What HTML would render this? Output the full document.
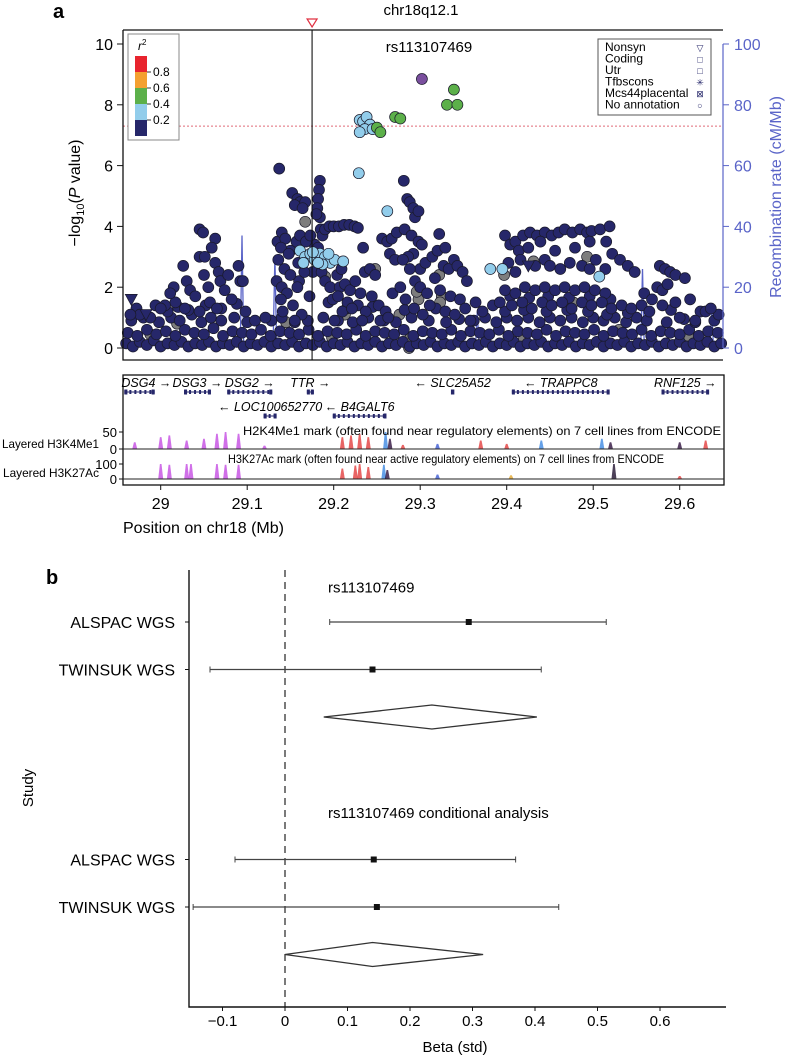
<!DOCTYPE html>
<html><head><meta charset="utf-8">
<style>
html,body{margin:0;padding:0;background:#fff;}
svg{display:block;font-family:"Liberation Sans",Arial,sans-serif;}
</style></head>
<body>
<svg id="fig" width="788" height="1059" viewBox="0 0 788 1059" xmlns="http://www.w3.org/2000/svg">
  <g id="panelA"></g>
  <g id="genes"></g>
  <g id="panelB"></g>
</svg>
<script>
// ---------- Panel a data ----------
const navySnps = [
[28.960,0.15],[28.968,0.05],[28.976,0.2],[28.984,0.1],[28.992,0.25],[29.000,0.05],[29.008,0.15],[29.016,0.1],[29.024,0.2],[29.032,0.05],[29.040,0.15],[29.048,0.1],[29.056,0.2],[29.064,0.05],[29.072,0.15],[29.080,0.1],[29.088,0.2],[29.096,0.05],[29.104,0.15],[29.112,0.1],[29.120,0.2],[29.128,0.05],[29.136,0.15],[29.144,0.1],[29.152,0.2],[29.160,0.05],[29.168,0.15],[29.176,0.1],[29.184,0.2],[29.192,0.05],[29.200,0.15],[29.208,0.1],[29.216,0.2],[29.224,0.05],[29.232,0.15],[29.240,0.1],[29.248,0.2],[29.256,0.05],[29.264,0.15],[29.272,0.1],[29.280,0.2],[29.288,0.05],[29.296,0.15],[29.304,0.1],[29.312,0.2],[29.320,0.05],[29.328,0.15],[29.336,0.1],[29.344,0.2],[29.352,0.05],[29.360,0.15],[29.368,0.1],[29.376,0.2],[29.384,0.05],[29.392,0.15],[29.400,0.1],[29.408,0.2],[29.416,0.05],[29.424,0.15],[29.432,0.1],[29.440,0.2],[29.448,0.05],[29.456,0.15],[29.464,0.1],[29.472,0.2],[29.480,0.05],[29.488,0.15],[29.496,0.1],[29.504,0.2],[29.512,0.05],[29.520,0.15],[29.528,0.1],[29.536,0.2],[29.544,0.05],[29.552,0.15],[29.560,0.1],[29.568,0.2],[29.576,0.05],[29.584,0.15],[29.592,0.1],[29.600,0.2],[29.608,0.05],[29.616,0.15],[29.624,0.1],[29.632,0.2],[29.640,0.05],[29.648,0.15],
[28.962,0.5],[28.973,0.4],[28.984,0.6],[28.995,0.45],[29.006,0.55],[29.017,0.4],[29.028,0.6],[29.039,0.5],[29.050,0.45],[29.061,0.65],[29.072,0.4],[29.083,0.55],[29.094,0.5],[29.105,0.45],[29.116,0.6],[29.127,0.4],[29.138,0.55],[29.149,0.5],[29.160,0.45],[29.171,0.6],[29.182,0.4],[29.193,0.55],[29.204,0.5],[29.215,0.45],[29.226,0.6],[29.237,0.4],[29.248,0.55],[29.259,0.5],[29.270,0.45],[29.281,0.6],[29.292,0.4],[29.303,0.55],[29.314,0.5],[29.325,0.45],[29.336,0.6],[29.347,0.4],[29.358,0.55],[29.369,0.5],[29.380,0.45],[29.391,0.6],[29.402,0.4],[29.413,0.55],[29.424,0.5],[29.435,0.45],[29.446,0.6],[29.457,0.4],[29.468,0.55],[29.479,0.5],[29.490,0.45],[29.501,0.6],[29.512,0.4],[29.523,0.55],[29.534,0.5],[29.545,0.45],[29.556,0.6],[29.567,0.4],[29.578,0.55],[29.589,0.5],[29.600,0.45],[29.611,0.6],[29.622,0.4],[29.633,0.55],[29.644,0.5],
[28.966,0.9],[28.980,1.0],[28.998,0.85],[29.012,1.0],[29.022,0.9],[29.036,1.1],[29.047,0.85],[29.058,1.0],[29.070,0.9],[29.085,1.0],[29.100,0.85],[29.128,0.9],[29.140,1.0],[29.155,0.85],[29.170,0.9],[29.188,1.0],[29.205,0.9],[29.222,0.85],[29.240,1.0],[29.258,0.9],[29.272,0.85],[29.290,1.0],[29.310,0.9],[29.330,0.85],[29.345,0.95],[29.362,0.9],[29.375,1.0],[29.388,0.85],[29.400,1.0],[29.412,0.9],[29.425,1.0],[29.438,0.85],[29.450,1.0],[29.462,0.9],[29.475,1.0],[29.488,0.85],[29.500,1.0],[29.512,0.9],[29.525,1.0],[29.538,0.85],[29.550,1.0],[29.562,0.9],[29.585,0.85],[29.605,0.95],[29.618,0.85],[29.640,0.9],
[28.972,1.3],[28.994,1.4],[29.008,1.2],[29.020,1.35],[29.032,1.25],[29.052,1.4],[29.070,1.3],[29.088,1.45],[29.215,1.3],[29.245,1.35],[29.282,1.25],[29.318,1.3],[29.372,1.2],[29.384,1.4],[29.398,1.2],[29.420,1.25],[29.446,1.2],[29.470,1.25],[29.494,1.2],[29.516,1.1],[29.540,1.15],[29.556,1.4],[29.590,1.25],[29.645,1.1],[29.404,1.7],[29.426,1.65],[29.448,1.7],[29.472,1.65],[29.496,1.7],[29.520,1.6],[29.015,2.0],[29.030,2.2],[29.050,2.4],[29.160,2.2],[29.176,2.5],[29.178,3.4],[29.150,3.2],[29.135,3.5],[29.292,3.1],[29.300,2.6],
[29.045,3.9],[29.049,3.8],[29.063,3.6],[29.059,3.3],[29.045,3.0],[29.051,3.0],[29.063,2.8],[29.067,2.5],[29.026,2.7],[29.069,2.2],[29.078,2.4],[29.090,2.7],[29.092,2.2],[29.095,2.2],[29.034,1.9],[29.040,1.7],[29.017,1.5],[29.005,1.4],[29.011,1.8],[29.028,1.3],[29.055,2.0],[29.074,1.9],[29.082,1.6],[29.057,1.5],[29.045,1.2],[28.988,1.0],[28.976,1.1],[28.965,1.1],[29.098,1.2],[29.109,0.9],[29.121,1.0],[29.000,1.3],[29.065,1.3],
[29.137,5.9],[29.152,5.1],[29.158,4.9],[29.161,4.8],[29.167,4.8],[29.155,4.7],[29.164,4.6],[29.140,3.8],[29.144,3.6],[29.139,3.3],[29.148,3.1],[29.136,2.9],[29.143,2.6],[29.150,2.4],[29.134,2.2],[29.140,2.0],[29.146,1.8],[29.139,1.6],[29.153,1.4],[29.141,1.2],[29.157,3.5],[29.161,3.7],[29.168,3.5],[29.173,3.7],[29.159,2.8],[29.166,2.5],[29.171,3.0],[29.158,2.0],[29.163,1.1],[29.155,0.9],[29.172,1.7],
[29.184,5.5],[29.183,5.2],[29.182,4.9],[29.181,4.6],[29.184,4.3],[29.180,4.4],[29.185,3.9],[29.187,3.7],[29.190,3.9],[29.182,3.3],[29.186,2.5],[29.190,2.2],[29.196,2.0],[29.194,1.5],[29.199,1.6],[29.201,0.9],
[29.195,4.0],[29.200,4.0],[29.206,4.0],[29.212,4.05],[29.218,4.05],[29.224,4.0],[29.228,3.95],
[29.207,2.0],[29.213,2.1],[29.219,1.9],[29.225,2.2],[29.231,1.8],[29.205,1.7],[29.216,1.5],[29.228,1.4],[29.237,1.2],[29.210,1.2],[29.221,1.3],[29.233,0.9],[29.204,2.4],[29.209,2.6],
[29.234,3.3],[29.236,2.5],[29.242,2.6],[29.248,2.4],[29.256,3.6],[29.262,3.5],[29.267,3.6],[29.273,3.8],[29.265,3.1],[29.271,2.9],[29.252,1.4],[29.260,1.2],[29.268,1.8],[29.277,2.0],[29.244,1.7],[29.254,0.9],[29.263,1.0],
[29.281,5.5],[29.285,4.9],[29.288,4.8],[29.292,4.6],[29.294,4.3],[29.298,4.5],[29.282,3.9],[29.290,3.7],[29.298,3.5],[29.302,3.4],[29.286,3.0],[29.280,2.9],[29.288,2.6],[29.294,2.2],[29.300,2.0],[29.306,2.8],[29.308,1.8],[29.283,1.6],[29.293,1.3],[29.303,1.1],
[29.314,3.0],[29.320,3.2],[29.322,3.75],[29.329,3.3],[29.327,2.7],[29.333,2.6],[29.339,2.9],[29.343,2.7],[29.349,2.5],[29.354,2.2],[29.317,2.3],[29.323,1.9],[29.335,1.7],[29.346,1.6],[29.311,1.4],[29.329,1.2],[29.340,1.1],[29.352,1.3],[29.358,0.9],[29.364,1.5],
[29.398,3.7],[29.404,3.4],[29.410,3.5],[29.419,3.7],[29.427,3.8],[29.435,3.7],[29.444,3.8],[29.452,3.7],[29.460,3.8],[29.467,3.9],[29.476,3.8],[29.485,3.9],[29.493,3.8],[29.498,3.85],[29.508,3.9],[29.519,4.0],[29.414,3.2],[29.425,3.3],[29.439,3.5],[29.456,3.2],[29.479,3.3],[29.496,3.5],[29.515,3.5],
[29.402,2.8],[29.410,2.5],[29.416,2.9],[29.433,2.7],[29.444,2.9],[29.450,2.7],[29.462,2.6],[29.473,2.8],[29.487,2.7],[29.496,2.6],[29.503,2.9],[29.514,2.6],[29.522,3.1],[29.531,2.9],[29.540,2.7],[29.548,2.5],
[29.398,1.9],[29.410,1.8],[29.421,2.0],[29.433,1.9],[29.444,2.0],[29.456,1.9],[29.467,2.0],[29.479,1.9],[29.490,2.0],[29.502,1.9],[29.514,1.8],
[29.392,1.5],[29.406,1.4],[29.418,1.5],[29.429,1.3],[29.441,1.5],[29.452,1.4],[29.464,1.5],[29.475,1.3],[29.487,1.5],[29.498,1.4],[29.510,1.5],[29.521,1.3],[29.533,1.4],[29.544,1.3],
[29.559,1.8],[29.577,2.7],[29.583,2.6],[29.589,2.5],[29.595,2.4],[29.606,2.3],[29.574,2.0],[29.580,1.9],[29.586,2.1],[29.568,1.6],[29.580,1.4],[29.595,1.5],[29.612,1.6],[29.624,1.2],[29.630,1.2],[29.636,1.3],[29.565,1.2],[29.600,1.0],[29.618,0.9]
];
const navyTriangles = [[28.983,1.1],[29.425,2.7],[28.966,1.6]];
const graySnps = [[29.167,4.15],[29.190,2.35],[29.248,2.6],[29.298,1.6],[29.322,2.4],[29.431,2.85],[29.397,2.4],[29.296,1.85],[29.325,1.7],[29.493,3.0],[29.477,1.5],[29.288,0.3],[29.019,0.8],[28.988,0.45],[29.145,0.85],[29.213,1.1],[29.276,1.1],[29.323,1.5],[29.198,0.35],[29.287,0.0],[29.420,0.3],[29.530,0.6],[29.610,0.4]];
const lightBlueSnps = [[29.161,3.2],[29.167,3.0],[29.173,3.1],[29.178,2.9],[29.184,3.1],[29.190,3.0],[29.196,2.8],[29.201,2.9],[29.211,2.85],[29.165,2.8],[29.176,3.15],[29.187,2.75],[29.182,2.8],[29.194,3.1],[29.229,5.75],[29.262,4.5],[29.230,7.5],[29.234,7.45],[29.238,7.6],[29.242,7.35],[29.236,7.2],[29.230,7.1],[29.245,7.2],[29.381,2.6],[29.395,2.6],[29.507,2.35]];
const greenSnps = [[29.250,7.25],[29.254,7.1],[29.271,7.6],[29.277,7.55],[29.339,8.5],[29.331,8.0],[29.343,8.0]];
const leadSnp = [[29.302,8.85]];
const recPos = [28.956,28.99,29.02,29.05,29.08,29.092,29.094,29.096,29.12,29.130,29.132,29.134,29.16,29.20,29.24,29.28,29.32,29.36,29.364,29.366,29.368,29.40,29.44,29.48,29.52,29.55,29.555,29.557,29.559,29.58,29.61,29.635,29.637,29.639,29.65];
const recRate = [1,2,1.5,2,1,1,37,1,2,1,30,1,1.5,1,2,1,1.5,1,1,12,1,1.5,2,1,1.5,1,1,26,1,1.5,1,1,13,1,1];
const pTicks = [0,2,4,6,8,10];
const recTicks = [0,20,40,60,80,100];
const posTicks = [29,29.1,29.2,29.3,29.4,29.5,29.6];
const gwsThreshold = 7.3;
const markerPos = 29.175;
// gene data
const geneNames = ["DSG4","DSG3","DSG2","TTR","SLC25A52","TRAPPC8","RNF125","LOC100652770","B4GALT6"];
const geneStart = [28.958,29.027,29.077,29.169,29.336,29.406,29.579,29.119,29.199];
const geneEnd = [28.993,29.058,29.129,29.177,29.339,29.519,29.634,29.134,29.261];
const geneStrand = [1,1,1,1,-1,-1,1,-1,-1];
const geneRow = [0,0,0,0,0,0,0,1,1];
// ENCODE peaks
const k4Pos = [28.97,29.00,29.01,29.03,29.05,29.065,29.075,29.09,29.21,29.22,29.23,29.24,29.26,29.265,29.32,29.37,29.40,29.44,29.51,29.52,29.60,29.63,29.12,29.28];
const k4Val = [20,35,40,25,30,45,50,45,35,40,45,35,50,30,15,25,15,25,30,20,20,25,10,12];
const k4Col = ["#c040e0","#c040e0","#c040e0","#c040e0","#c040e0","#c040e0","#c040e0","#c040e0","#e03030","#e03030","#e03030","#e03030","#3080e0","#200030","#3050d0","#e03030","#e03030","#3080e0","#3080e0","#200030","#200030","#e03030","#c040e0","#e03030"];
const k27Pos = [29.00,29.01,29.03,29.035,29.065,29.075,29.09,29.21,29.225,29.23,29.24,29.258,29.262,29.32,29.405,29.524,29.60];
const k27Val = [100,95,100,100,100,95,95,70,90,100,80,95,60,30,25,100,20];
const k27Col = ["#c040e0","#c040e0","#c040e0","#c040e0","#c040e0","#c040e0","#c040e0","#e03030","#e03030","#e03030","#e03030","#3080e0","#200030","#3050d0","#e0a020","#100020","#e03030"];

// ---------- Panel b data ----------
const studyNames = ["ALSPAC WGS","TWINSUK WGS","ALSPAC WGS","TWINSUK WGS"];
const studySlot = [0,1,5,6];
const studyBeta = [0.294,0.14,0.142,0.147];
const studyLo = [0.0715,-0.12,-0.08,-0.147];
const studyHi = [0.514,0.41,0.369,0.438];
const pooledSlot = [2,7];
const pooledBeta = [0.235,0.14];
const pooledLo = [0.062,0.0];
const pooledHi = [0.403,0.317];
const groupTitles = ["rs113107469","rs113107469 conditional analysis"];
const groupTitleSlot = [-0.75,4];
const betaTicks = [-0.1,0,0.1,0.2,0.3,0.4,0.5,0.6];

const NS = "http://www.w3.org/2000/svg";
function mk(parent, tag, attrs, text){
  const e = document.createElementNS(NS, tag);
  for (const k in attrs) e.setAttribute(k, attrs[k]);
  if (text !== undefined) e.textContent = text;
  parent.appendChild(e);
  return e;
}
const xA = mb => 160.7 + 865*(mb-29);
const yA = p => 348 - 30.4*p;
const yR = r => 348 - 3.04*r;
const xB = b => 285 + 625*b;
const slotY = s => 622 + 47.5*s;

const A = document.getElementById('panelA');
let e;
e = mk(A,'text',{x:53,y:18,'font-size':20,'font-weight':'bold'},'a');
 
e = mk(A,'text',{x:421,y:15,'font-size':15,'text-anchor':'middle'},'chr18q12.1');
 

let d = recPos.map((p,i)=>(i?'L':'M')+xA(p).toFixed(1)+','+yR(recRate[i]).toFixed(1)).join('');
e = mk(A,'path',{d:d,fill:'none',stroke:'#5a64c8','stroke-width':1.3});
 

e = mk(A,'line',{x1:123,x2:723,y1:yA(gwsThreshold),y2:yA(gwsThreshold),stroke:'#e06a78','stroke-width':1,'stroke-dasharray':'2,2'});
 

function drawPts(arr, fill, name){
  const g = mk(A,'g',{});
   
  arr.forEach(pt=>{
    const c = mk(g,'circle',{cx:xA(pt[0]).toFixed(1),cy:yA(pt[1]).toFixed(1),r:5.5,fill:fill,stroke:'#1a1a2a','stroke-width':0.7});
     
  });
}
drawPts(graySnps,'#7d7d7d','snps-no-r2');
drawPts(navySnps,'#26276a','snps-r2-0-0.2');
{
  const g = mk(A,'g',{});
   
  navyTriangles.forEach(pt=>{
    const x=xA(pt[0]), y=yA(pt[1]);
    const t = mk(g,'polygon',{points:`${x-6},${y-5} ${x+6},${y-5} ${x},${y+6}`,fill:'#26276a',stroke:'#1a1a2a','stroke-width':0.7});
     
  });
}
drawPts(lightBlueSnps,'#92cdeb','snps-r2-0.2-0.4');
drawPts(greenSnps,'#5cb04a','snps-r2-0.4-0.6');
drawPts(leadSnp,'#7a4f9e','lead-snp');

e = mk(A,'line',{x1:xA(markerPos),x2:xA(markerPos),y1:30,y2:360,stroke:'#111','stroke-width':1.1});
 
{ const x = xA(markerPos);
  e = mk(A,'polygon',{points:`${x-5},19 ${x+5},19 ${x},27`,fill:'#fff',stroke:'#e03040','stroke-width':1.2});
    }

e = mk(A,'path',{d:'M123,30 L723,30 M123,30 L123,360 L723,360',fill:'none',stroke:'#111','stroke-width':1.3});
 
pTicks.forEach(t=>{
  mk(A,'line',{x1:117,x2:123,y1:yA(t),y2:yA(t),stroke:'#111','stroke-width':1});
  e = mk(A,'text',{x:113,y:yA(t)+6,'font-size':16,'text-anchor':'end'},String(t));
   
});
e = mk(A,'text',{transform:'translate(80,193) rotate(-90)','font-size':16,'text-anchor':'middle'});
 
e.innerHTML = '−log<tspan font-size="11" dy="4">10</tspan><tspan dy="-4">(</tspan><tspan font-style="italic">P</tspan> value)';
e = mk(A,'line',{x1:723,x2:723,y1:yR(0),y2:yR(100),stroke:'#5a64c8','stroke-width':1.2});
 
recTicks.forEach(t=>{
  mk(A,'line',{x1:723,x2:729,y1:yR(t),y2:yR(t),stroke:'#5a64c8','stroke-width':1});
  e = mk(A,'text',{x:734,y:yR(t)+6,'font-size':16,fill:'#5a64c8'},String(t));
   
});
e = mk(A,'text',{transform:'translate(781,197) rotate(-90)','font-size':16,'text-anchor':'middle',fill:'#5a64c8'},'Recombination rate (cM/Mb)');
 
e = mk(A,'text',{x:429,y:52,'font-size':15,'text-anchor':'middle'},'rs113107469');
 

{
  const g = mk(A,'g',{});
   
  mk(g,'rect',{x:128,y:34,width:51,height:106,fill:'#fff',stroke:'#888','stroke-width':1});
  const t = mk(g,'text',{x:138,y:50,'font-size':12,'font-style':'italic'});
  t.innerHTML = 'r<tspan font-size="8" dy="-5" font-style="normal">2</tspan>';
  const cols = ['#e8242e','#f4a030','#5cb04a','#92cdeb','#26276a'];
  cols.forEach((c,i)=>mk(g,'rect',{x:135,y:56+16*i,width:12,height:16,fill:c}));
  ['0.8','0.6','0.4','0.2'].forEach((l,i)=>{
    mk(g,'line',{x1:147,x2:151,y1:72+16*i,y2:72+16*i,stroke:'#333'});
    mk(g,'text',{x:153,y:76+16*i,'font-size':12},l);
  });
}
{
  const g = mk(A,'g',{});
   
  mk(g,'rect',{x:598,y:39,width:113,height:76,fill:'#fff',stroke:'#555','stroke-width':1});
  const labs = ['Nonsyn','Coding','Utr','Tfbscons','Mcs44placental','No annotation'];
  const syms = ['▽','□','□','✳','⊠','○'];
  labs.forEach((l,i)=>{
    mk(g,'text',{x:605,y:51+11.5*i,'font-size':12},l);
    mk(g,'text',{x:700,y:51+11.5*i,'font-size':9,'text-anchor':'middle',fill:'#26276a'},syms[i]);
  });
}

// ---------- gene track ----------
const G = document.getElementById('genes');
e = mk(G,'rect',{x:123,y:375,width:601,height:110,fill:'none',stroke:'#111','stroke-width':1.3});
 
geneNames.forEach((n,i)=>{
  const x1 = xA(geneStart[i]), x2 = xA(geneEnd[i]);
  const yb = geneRow[i]===0 ? 392 : 416;
  const yt = geneRow[i]===0 ? 387 : 411;
  const g = mk(G,'g',{});
   
  mk(g,'line',{x1:x1,x2:x2,y1:yb,y2:yb,stroke:'#26276a','stroke-width':1});
  mk(g,'line',{x1:x1,x2:x2,y1:yb,y2:yb,stroke:'#26276a','stroke-width':4,'stroke-dasharray':'2,3'});
  mk(g,'rect',{x:x1,y:yb-2.5,width:3,height:5,fill:'#26276a'});
  mk(g,'rect',{x:x2-3,y:yb-2.5,width:3,height:5,fill:'#26276a'});
  const label = geneStrand[i]>0 ? n+' →' : '← '+n;
  let cx = (x1+x2)/2;
  const t = mk(g,'text',{x:cx,y:yt,'font-size':12.5,'font-style':'italic','text-anchor':'middle'},label);
  const w = label.length*6.8;
  if (cx + w/2 > 722) t.setAttribute('x', 722 - w/2);
  if (cx - w/2 < 126) t.setAttribute('x', 126 + w/2);
});
function track(pos,val,col,base,scale,name){
  const g = mk(G,'g',{});
   
  pos.forEach((p,i)=>{
    const x = xA(p), h = val[i]*scale;
    const pk = mk(g,'polygon',{points:`${x-2.5},${base} ${x-0.8},${base-h} ${x+0.8},${base-h} ${x+2.5},${base}`,fill:col[i],opacity:0.75});
     
  });
  mk(g,'line',{x1:123,x2:724,y1:base,y2:base,stroke:'#222','stroke-width':1});
}
track(k4Pos,k4Val,k4Col,449,0.34,'h3k4me1-track');
track(k27Pos,k27Val,k27Col,479,0.15,'h3k27ac-track');
[[432,'50'],[449,'0'],[464,'100'],[479,'0']].forEach(a=>{
  mk(G,'line',{x1:119,x2:123,y1:a[0],y2:a[0],stroke:'#111'});
  e = mk(G,'text',{x:117,y:a[0]+5,'font-size':13,'text-anchor':'end'},a[1]);
   
});
e = mk(G,'text',{x:2,y:448,'font-size':12,textLength:97,lengthAdjust:'spacingAndGlyphs'},'Layered H3K4Me1');
 
e = mk(G,'text',{x:3,y:477,'font-size':12,textLength:96,lengthAdjust:'spacingAndGlyphs'},'Layered H3K27Ac');
 
e = mk(G,'text',{x:243,y:435,'font-size':12,textLength:478,lengthAdjust:'spacingAndGlyphs'},'H2K4Me1 mark (often found near regulatory elements) on 7 cell lines from ENCODE');
 
e = mk(G,'text',{x:228,y:463,'font-size':12,textLength:436,lengthAdjust:'spacingAndGlyphs'},'H3K27Ac mark (often found near active regulatory elements) on 7 cell lines from ENCODE');
 
posTicks.forEach(t=>{
  mk(G,'line',{x1:xA(t),x2:xA(t),y1:485,y2:490,stroke:'#111'});
  e = mk(G,'text',{x:xA(t),y:509,'font-size':16,'text-anchor':'middle'},String(t));
   
});
e = mk(G,'text',{x:123,y:533,'font-size':16},'Position on chr18 (Mb)');
 

// ---------- Panel b ----------
const B = document.getElementById('panelB');
e = mk(B,'text',{x:46,y:584,'font-size':20,'font-weight':'bold'},'b');
 
e = mk(B,'line',{x1:xB(0),x2:xB(0),y1:570,y2:1007,stroke:'#333','stroke-width':1.3,'stroke-dasharray':'7,5'});
 
e = mk(B,'path',{d:'M189,570 L189,1007 L726,1007',fill:'none',stroke:'#111','stroke-width':1.4});
 
betaTicks.forEach(t=>{
  mk(B,'line',{x1:xB(t),x2:xB(t),y1:1007,y2:1011,stroke:'#111'});
  e = mk(B,'text',{x:xB(t),y:1026,'font-size':15,'text-anchor':'middle'},t===0?'0':(t<0?'−'+Math.abs(t):String(t)));
   
});
e = mk(B,'text',{x:455,y:1052,'font-size':15,'text-anchor':'middle'},'Beta (std)');
 
e = mk(B,'text',{transform:'translate(33,788) rotate(-90)','font-size':15,'text-anchor':'middle'},'Study');
 
groupTitles.forEach((t,i)=>{
  e = mk(B,'text',{x:328,y:slotY(groupTitleSlot[i])+6,'font-size':15},t);
   
});
studyNames.forEach((n,i)=>{
  const y = slotY(studySlot[i]);
  mk(B,'line',{x1:185,x2:189,y1:y,y2:y,stroke:'#111'});
  e = mk(B,'text',{x:175,y:y+6,'font-size':16,'text-anchor':'end'},n);
   
  const g = mk(B,'g',{});
   
  mk(g,'line',{x1:xB(studyLo[i]),x2:xB(studyHi[i]),y1:y,y2:y,stroke:'#444','stroke-width':1.3});
  mk(g,'line',{x1:xB(studyLo[i]),x2:xB(studyLo[i]),y1:y-3,y2:y+3,stroke:'#444','stroke-width':1});
  mk(g,'line',{x1:xB(studyHi[i]),x2:xB(studyHi[i]),y1:y-3,y2:y+3,stroke:'#444','stroke-width':1});
  mk(g,'rect',{x:xB(studyBeta[i])-3,y:y-3,width:6,height:6,fill:'#111'});
});
pooledSlot.forEach((s,i)=>{
  const y = slotY(s);
  e = mk(B,'polygon',{points:`${xB(pooledLo[i])},${y} ${xB(pooledBeta[i])},${y-12} ${xB(pooledHi[i])},${y} ${xB(pooledBeta[i])},${y+12}`,fill:'#fff',stroke:'#333','stroke-width':1.3});
   
});
</script>
</body></html>
